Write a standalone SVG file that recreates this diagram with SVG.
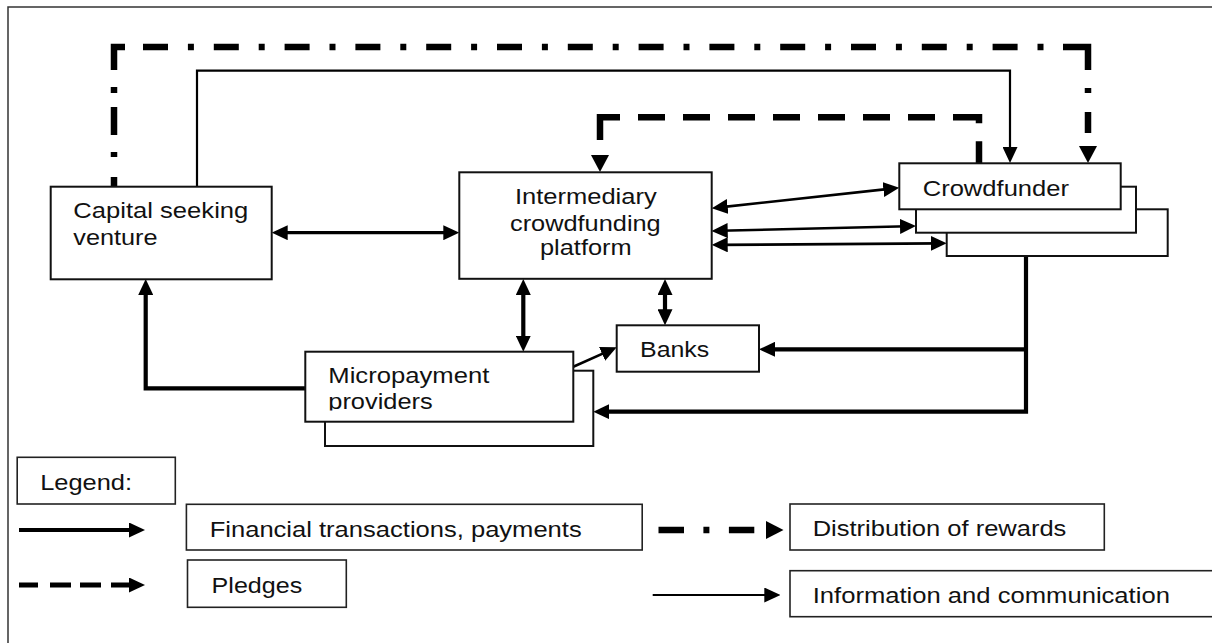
<svg xmlns="http://www.w3.org/2000/svg" width="1212" height="643" viewBox="0 0 1212 643">
<defs>
<style>
.box{fill:#fff;stroke:#111;stroke-width:2}
.lbox{fill:#fff;stroke:#222;stroke-width:1.6}
text{font-family:"Liberation Sans",Arial,sans-serif;font-size:22px;fill:#111}
.ln{fill:none;stroke:#000;stroke-linejoin:miter;stroke-linecap:butt}
.thin{stroke-width:2.2}
.mid{stroke-width:2.6}
.med{stroke-width:3.2}
.thick{stroke-width:4.2}
.dash{stroke-width:6.5}
</style>
<marker id="ah" markerUnits="userSpaceOnUse" markerWidth="16" markerHeight="15" refX="8" refY="7.5" orient="auto-start-reverse" viewBox="0 0 16 15"><path d="M0,0 L16,7.5 L0,15 z" fill="#000"/></marker>
<marker id="ahd" markerUnits="userSpaceOnUse" markerWidth="17" markerHeight="18" refX="0" refY="9" orient="auto" viewBox="0 0 17 18"><path d="M0,0 L17,9 L0,18 z" fill="#000"/></marker>
<clipPath id="clipProv"><rect x="300" y="350" width="280" height="60.5"/></clipPath>
</defs>
<rect x="0" y="0" width="1212" height="643" fill="#fff"/>
<rect x="8" y="7" width="1230" height="660" fill="none" stroke="#333" stroke-width="1.5"/>

<g id="connectors">
  <g id="rewards">
    <path class="ln dash" d="M114,187 V47 H125" stroke-dasharray="10 20 5 17 28 14 6 17 40"/>
    <path class="ln dash" d="M143,47 H1060" stroke-dasharray="25 19.9 6 19.9"/>
    <path class="ln dash" d="M1063,47 H1088 V146" stroke-dasharray="48 18 5 19 21 14" marker-end="url(#ahd)"/>
  </g>
  <path id="info-venture-crowd" class="ln thin" d="M197,186.7 V70.7 H1010 V155" marker-end="url(#ah)"/>
  <path id="pledges" class="ln dash" d="M979,163.3 V117.3 H600 V155" stroke-dasharray="22 18 32 18 27 18 27 18 27 18 27 18 27 18 27 18 27 18 42.7 15" marker-end="url(#ahd)"/>
  <path id="venture-platform" class="ln med" d="M279.7,232.7 H451.3" marker-start="url(#ah)" marker-end="url(#ah)"/>
  <path id="platform-crowd1" class="ln mid" d="M719.7,207.4 L891.3,188.6" marker-start="url(#ah)" marker-end="url(#ah)"/>
  <path id="platform-crowd2" class="ln mid" d="M719.7,230.8 L908,226.2" marker-start="url(#ah)" marker-end="url(#ah)"/>
  <path id="platform-crowd3" class="ln mid" d="M719.7,244.9 L938.7,243.4" marker-start="url(#ah)" marker-end="url(#ah)"/>
  <path id="platform-micro" class="ln thick" d="M523.3,287 V343.7" marker-start="url(#ah)" marker-end="url(#ah)"/>
  <path id="platform-banks" class="ln thick" d="M665,287 V317.3" marker-start="url(#ah)" marker-end="url(#ah)"/>
  <path id="micro-banks" class="ln mid" d="M573.3,366.7 L609.4,350.6" marker-end="url(#ah)"/>
  <path id="crowd-micro" class="ln thick" d="M1026,256 V411.7 H601.3" marker-end="url(#ah)"/>
  <path id="crowd-banks" class="ln thick" d="M1026,349.3 H767" marker-end="url(#ah)"/>
  <path id="micro-venture" class="ln thick" d="M305.3,388.3 H145.7 V287" marker-end="url(#ah)"/>
</g>

<g id="capital">
  <rect class="box" x="50.7" y="186.7" width="221" height="92.6"/>
  <text x="73.3" y="218.3" textLength="175" lengthAdjust="spacingAndGlyphs">Capital seeking</text>
  <text x="73.3" y="245" textLength="84.3" lengthAdjust="spacingAndGlyphs">venture</text>
</g>

<g id="platform">
  <rect class="box" x="459.3" y="172.3" width="252.4" height="106.5"/>
  <text x="515" y="204" textLength="141.7" lengthAdjust="spacingAndGlyphs">Intermediary</text>
  <text x="510" y="230.7" textLength="150.7" lengthAdjust="spacingAndGlyphs">crowdfunding</text>
  <text x="540" y="255" textLength="91.7" lengthAdjust="spacingAndGlyphs">platform</text>
</g>

<g id="crowdfunder">
  <rect class="box" x="946.7" y="209.3" width="221" height="46.7"/>
  <rect class="box" x="916" y="186.7" width="220" height="46"/>
  <rect class="box" x="899.3" y="163.3" width="221.4" height="46"/>
  <text x="922.7" y="196" textLength="146.3" lengthAdjust="spacingAndGlyphs">Crowdfunder</text>
</g>

<g id="banks">
  <rect class="box" x="616.7" y="325.3" width="142.3" height="46.4"/>
  <text x="640" y="356.7" textLength="69.3" lengthAdjust="spacingAndGlyphs">Banks</text>
</g>

<g id="micropayment">
  <rect class="box" x="325" y="370.7" width="268.3" height="75.3"/>
  <rect class="box" x="305.3" y="351.7" width="268" height="70"/>
  <text x="328.3" y="383.3" textLength="161" lengthAdjust="spacingAndGlyphs">Micropayment</text>
  <text x="328.3" y="409.3" textLength="104.4" lengthAdjust="spacingAndGlyphs" clip-path="url(#clipProv)">providers</text>
</g>

<g id="legend">
  <rect class="lbox" x="17.2" y="457.3" width="158.1" height="46.7"/>
  <text x="40.2" y="490" textLength="91.8" lengthAdjust="spacingAndGlyphs">Legend:</text>
  <path class="ln thick" d="M19,530 H137" marker-end="url(#ah)"/>
  <rect class="lbox" x="186.4" y="504.3" width="455.8" height="45.7"/>
  <text x="209.7" y="536.7" textLength="372" lengthAdjust="spacingAndGlyphs">Financial transactions, payments</text>
  <path class="ln" stroke-width="5" d="M19,585 H137" stroke-dasharray="19 12 21 9 21 10 26" marker-end="url(#ah)"/>
  <rect class="lbox" x="187.5" y="560" width="158.8" height="47.3"/>
  <text x="211.6" y="592.7" textLength="90.7" lengthAdjust="spacingAndGlyphs">Pledges</text>
  <path class="ln dash" d="M658.5,530 H766" stroke-dasharray="25.5 19.4 6 19.5 25.4 12"/>
  <path d="M766,521 L783.5,530 L766,539 z" fill="#000"/>
  <rect class="lbox" x="790" y="504" width="314.3" height="46"/>
  <text x="812.7" y="536" textLength="253.7" lengthAdjust="spacingAndGlyphs">Distribution of rewards</text>
  <path class="ln thin" d="M652.7,595 H772.3" marker-end="url(#ah)"/>
  <rect class="lbox" x="790" y="570.7" width="440" height="46"/>
  <text x="812.7" y="603.3" textLength="357.2" lengthAdjust="spacingAndGlyphs">Information and communication</text>
</g>
</svg>
